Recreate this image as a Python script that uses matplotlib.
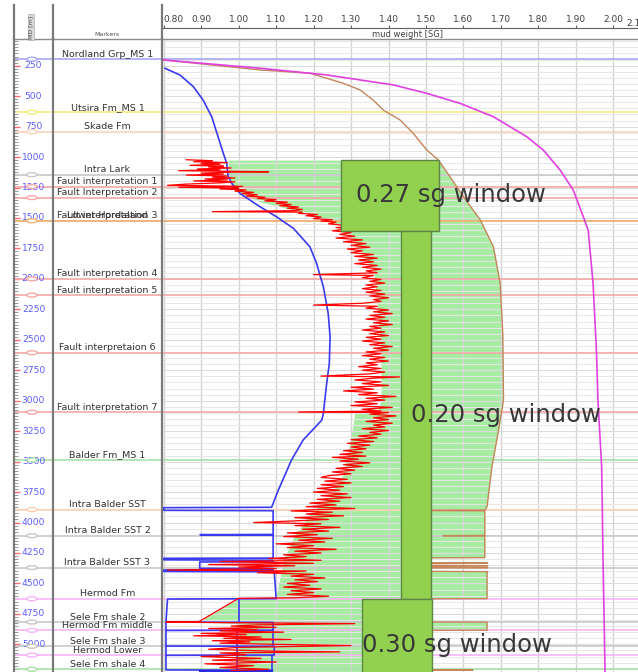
import numpy as np
import matplotlib
matplotlib.use('Agg')
import matplotlib.pyplot as plt
from matplotlib.patches import Ellipse, Rectangle
from matplotlib.lines import Line2D

W, H = 638, 672
DEPTH_TOP, DEPTH_BASE = 31, 5227
SG_MIN, SG_MAX = 0.794, 2.066

# ---- well tops / faults ----
marker_names = ['Nordland Grp_MS 1', 'Utsira Fm_MS 1', 'Skade Fm', 'Intra Lark',
                'Fault interpretation 1', 'Fault Interpretation 2', 'Fault interpretation 3',
                'Lower Hordaland', 'Fault interpretation 4', 'Fault interpretation 5',
                'Fault interpretaion 6', 'Fault interpretation 7', 'Balder Fm_MS 1',
                'Intra Balder SST', 'Intra Balder SST 2', 'Intra Balder SST 3', 'Hermod Fm',
                'Sele Fm shale 2', 'Hermod Fm middle', 'Sele Fm shale 3', 'Hermod Lower',
                'Sele Fm shale 4']
marker_depths = [197, 632, 792, 1145, 1242, 1333, 1522, 1522, 2000, 2133, 2606, 3095,
                 3487, 3894, 4108, 4370, 4626, 4817, 4885, 5016, 5088, 5205]
marker_colors = ['#a8a8f0', '#f4ee80', '#f8d4bc', '#c8c8c8', '#f4a8a8', '#f4a8a8',
                 '#f0b47c', '#f0b47c', '#f4a8a8', '#f4a8a8', '#f4a8a8', '#f4a8a8',
                 '#a8e0a8', '#f8d0b0', '#c8c8c8', '#c8c8c8', '#f8b4f8', '#c8c8c8',
                 '#f8b4f8', '#c8c8c8', '#f8b4f8', '#a8e0a8']

depth_labels = list(range(250, 5001, 250))
sg_ticks = [0.80, 0.90, 1.00, 1.10, 1.20, 1.30, 1.40, 1.50, 1.60, 1.70, 1.80, 1.90, 2.00]

# ---- curves (sg vs measured depth) ----
# overburden
mag_sg = [0.799, 1.057, 1.235, 1.413, 1.502, 1.591, 1.680, 1.769, 1.813, 1.858, 1.893,
          1.920, 1.933, 1.946, 1.955, 1.959, 1.969, 1.973, 1.978]
mag_depth = [203, 271, 326, 408, 477, 559, 669, 833, 942, 1106, 1270, 1490, 1599, 2034,
             2584, 2994, 3542, 4363, 5227]

# fracture gradient
frac_sg = [0.799, 1.057, 1.190, 1.279, 1.324, 1.359, 1.386, 1.431, 1.466, 1.502, 1.533,
           1.564, 1.600, 1.645, 1.680, 1.698, 1.705, 1.707, 1.689, 1.676, 1.663,
           1.657, 1.450, 1.450, 1.657, 1.657, 1.545, 1.657, 1.657, 1.450, 1.450, 1.665,
           1.450, 1.450, 1.665, 1.450, 1.450, 1.665, 1.450, 1.450, 1.665, 1.663, 1.663,
           1.450, 1.450, 1.663, 1.663, 1.450, 1.450, 1.625, 1.450, 1.450]
frac_depth = [203, 285, 312, 394, 449, 532, 614, 696, 805, 942, 1024, 1161, 1325, 1516,
              1736, 2036, 2447, 2994, 3323, 3542, 3870,
              3897, 3899, 3902, 3905, 4106, 4108, 4110, 4288, 4290, 4331, 4334, 4337, 4351,
              4354, 4357, 4367, 4370, 4373, 4400, 4403, 4405, 4625, 4627, 4816, 4818, 4884,
              4886, 5209, 5211, 5213, 5227]

# pore pressure
pp_sg = [0.803, 0.843, 0.879, 0.905, 0.928, 0.945, 0.959, 0.968, 0.972, 0.981, 1.003,
         1.057, 1.101, 1.146, 1.190, 1.208, 1.213, 1.226, 1.239, 1.244, 1.242, 1.235,
         1.226, 1.222, 1.172, 1.141, 1.106, 1.088,
         0.800, 0.800, 1.092, 1.092, 0.897, 1.092, 1.092, 0.800, 0.800, 1.092, 1.092,
         0.896, 0.896, 1.092, 1.092, 0.800, 0.800, 1.095, 1.100, 0.810, 0.806, 1.092,
         1.092, 0.806, 0.806, 1.095, 1.095, 0.806, 0.806, 1.090]
pp_depth = [271, 326, 422, 532, 669, 833, 969, 1051, 1161, 1215, 1298, 1408, 1490, 1585,
            1736, 1872, 1927, 2064, 2283, 2475, 2693, 2857, 3104, 3159, 3323, 3487, 3733,
            3875,
            3878, 3900, 3903, 4098, 4100, 4103, 4292, 4294, 4306, 4310, 4322, 4324, 4376,
            4378, 4388, 4390, 4402, 4405, 4625, 4628, 4817, 4820, 4884, 4886, 5014, 5016,
            5088, 5090, 5210, 5212]
# pore pressure, sand/shale side traces in the reservoir section
pp2_sg = [1.0, 1.0, np.nan, 0.806, 0.806, np.nan, 1.092, 1.092, np.nan, 0.806, 0.806,
          np.nan, 1.090, 1.090, np.nan, 0.995, 0.995]
pp2_depth = [4628, 4817, np.nan, 4820, 4884, np.nan, 4886, 5014, np.nan, 5016, 5088,
             np.nan, 5090, 5210, np.nan, 4886, 5210]
pp_base_sg = [0.897, 1.085]
pp_base_depth = [5219, 5219]

# lower mud weight bound (collapse)
lower_sg = [0.972, 0.972, 0.981, 1.003, 1.06, 1.14, 1.22, 1.27, 1.30, 1.33, 1.36, 1.37,
            1.38, 1.38, 1.37, 1.31, 1.30, 1.28, 1.24, 1.20, 1.15, 1.12, 1.10, 1.00,
            0.893, 0.995, 0.995]
lower_depth = [1025, 1161, 1215, 1298, 1370, 1430, 1500, 1560, 1650, 1800, 1930, 2200,
               2600, 3000, 3090, 3100, 3300, 3600, 3800, 3900, 4100, 4300, 4610, 4622,
               4815, 4830, 5227]

# mud weight log (depth, sg)
mw_log = [
    (1022, 0.86), (1030, 0.93), (1038, 0.88), (1045, 0.97), (1052, 0.90), (1060, 0.95),
    (1068, 0.87), (1075, 0.96), (1082, 0.92), (1090, 0.98), (1098, 0.89), (1105, 0.95),
    (1112, 0.84), (1118, 0.99), (1121, 1.08), (1124, 0.98), (1132, 0.90), (1140, 0.96),
    (1148, 0.86), (1156, 0.97), (1165, 0.93), (1172, 0.99), (1180, 0.91), (1188, 0.97),
    (1196, 0.88), (1204, 0.99), (1212, 0.95), (1222, 0.86), (1232, 0.81), (1240, 1.01),
    (1248, 0.84), (1255, 1.00), (1262, 0.95), (1270, 1.02), (1280, 0.99), (1290, 1.04),
    (1300, 1.01), (1310, 1.05), (1320, 1.02), (1330, 1.07), (1340, 1.05), (1350, 1.10),
    (1360, 1.07), (1370, 1.13), (1380, 1.10), (1390, 1.14), (1400, 1.11), (1410, 1.16),
    (1420, 1.13), (1430, 1.17), (1440, 1.15), (1448, 0.93), (1452, 1.17), (1462, 1.16),
    (1472, 1.21), (1482, 1.18), (1492, 1.22), (1505, 1.20), (1515, 1.25), (1525, 1.22),
    (1535, 1.26), (1548, 1.24), (1560, 1.28), (1572, 1.33), (1578, 1.26), (1590, 1.29),
    (1605, 1.25), (1620, 1.30), (1635, 1.27), (1650, 1.31), (1665, 1.26), (1680, 1.33),
    (1695, 1.28), (1710, 1.34), (1725, 1.30), (1740, 1.35), (1755, 1.29), (1770, 1.33),
    (1785, 1.30), (1800, 1.36), (1815, 1.31), (1830, 1.37), (1845, 1.32), (1860, 1.36),
    (1875, 1.31), (1890, 1.37), (1905, 1.33), (1920, 1.38), (1935, 1.34), (1950, 1.37),
    (1965, 1.20), (1972, 1.36), (1990, 1.33), (2005, 1.38), (2020, 1.35), (2035, 1.39),
    (2050, 1.34), (2065, 1.37), (2080, 1.33), (2095, 1.38), (2110, 1.34), (2125, 1.39),
    (2140, 1.35), (2155, 1.40), (2170, 1.36), (2185, 1.38), (2200, 1.33), (2215, 1.20),
    (2225, 1.37), (2240, 1.34), (2255, 1.40), (2270, 1.36), (2285, 1.41), (2300, 1.35),
    (2315, 1.39), (2330, 1.34), (2345, 1.40), (2360, 1.36), (2375, 1.41), (2390, 1.35),
    (2405, 1.38), (2420, 1.33), (2435, 1.39), (2450, 1.35), (2465, 1.40), (2480, 1.34),
    (2495, 1.38), (2510, 1.33), (2525, 1.39), (2540, 1.35), (2555, 1.41), (2570, 1.36),
    (2585, 1.40), (2600, 1.34), (2615, 1.38), (2630, 1.33), (2645, 1.39), (2660, 1.35),
    (2675, 1.40), (2690, 1.34), (2705, 1.37), (2720, 1.32), (2735, 1.38), (2750, 1.33),
    (2765, 1.39), (2780, 1.35), (2798, 1.22), (2805, 1.43), (2815, 1.36), (2830, 1.31),
    (2845, 1.38), (2860, 1.33), (2875, 1.40), (2890, 1.30), (2905, 1.36), (2920, 1.28),
    (2935, 1.37), (2950, 1.32), (2965, 1.42), (2980, 1.34), (2995, 1.39), (3010, 1.31),
    (3025, 1.37), (3040, 1.30), (3055, 1.41), (3070, 1.33), (3085, 1.38), (3093, 1.16),
    (3097, 1.40), (3110, 1.35), (3125, 1.42), (3140, 1.36), (3155, 1.40), (3170, 1.34),
    (3185, 1.41), (3200, 1.36), (3215, 1.39), (3230, 1.33), (3245, 1.40), (3260, 1.35),
    (3275, 1.38), (3290, 1.32), (3305, 1.37), (3320, 1.30), (3335, 1.36), (3350, 1.29),
    (3365, 1.35), (3380, 1.30), (3395, 1.34), (3410, 1.28), (3425, 1.33), (3440, 1.27),
    (3455, 1.34), (3465, 1.25), (3480, 1.32), (3495, 1.27), (3510, 1.35), (3525, 1.28),
    (3540, 1.33), (3555, 1.26), (3570, 1.31), (3585, 1.25), (3600, 1.30), (3615, 1.24),
    (3630, 1.22), (3645, 1.29), (3660, 1.23), (3675, 1.30), (3690, 1.22), (3705, 1.28),
    (3720, 1.21), (3735, 1.27), (3750, 1.20), (3765, 1.29), (3780, 1.22), (3795, 1.30),
    (3810, 1.21), (3825, 1.27), (3840, 1.19), (3855, 1.26), (3870, 1.18), (3885, 1.31),
    (3895, 1.20), (3905, 1.14), (3915, 1.25), (3930, 1.18), (3945, 1.28), (3960, 1.15),
    (3975, 1.24), (3990, 1.12), (4000, 1.04), (4010, 1.22), (4025, 1.15), (4040, 1.27),
    (4055, 1.17), (4070, 1.24), (4085, 1.13), (4100, 1.21), (4115, 1.12), (4130, 1.25),
    (4145, 1.16), (4160, 1.23), (4175, 1.10), (4190, 1.20), (4205, 1.13), (4220, 1.26),
    (4235, 1.15), (4250, 1.22), (4265, 1.12), (4280, 1.18), (4295, 1.08), (4310, 1.22),
    (4320, 0.95), (4335, 1.20), (4345, 0.92), (4355, 1.15), (4365, 1.00), (4378, 1.10),
    (4390, 0.81), (4398, 1.18), (4412, 1.05), (4425, 1.20), (4440, 1.14), (4455, 1.23),
    (4470, 1.15), (4485, 1.21), (4500, 1.13), (4515, 1.19), (4530, 1.12), (4545, 1.22),
    (4560, 1.14), (4575, 1.20), (4590, 1.13), (4605, 1.24), (4618, 1.15), (4622, 1.00),
    (4815, 0.893), (4818, 0.806), (4830, 1.31), (4840, 1.05), (4850, 0.98), (4860, 1.10),
    (4870, 0.92), (4880, 1.05), (4890, 0.95), (4900, 1.12), (4910, 0.90), (4920, 1.02),
    (4930, 0.88), (4940, 1.06), (4950, 0.96), (4960, 1.14), (4970, 0.93), (4980, 1.03),
    (4990, 0.95), (5000, 1.10), (5010, 1.30), (5025, 1.00), (5040, 0.92), (5055, 1.08),
    (5062, 1.27), (5070, 0.95), (5085, 1.02), (5100, 0.90), (5115, 1.06), (5130, 0.93),
    (5145, 1.10), (5160, 0.91), (5175, 1.04), (5190, 0.95), (5205, 1.08), (5215, 0.98),
]

# mud weight window annotations
window_labels = ['0.27 sg window', '0.20 sg window', '0.30 sg window']
window_left = [1.272, 1.4325, 1.328]
window_right = [1.536, 1.5126, 1.515]
window_top = [1024, 1605, 4627]
window_base = [1605, 4627, 5300]
window_text_sg = [1.314, 1.460, 1.329]
window_text_depth = [1312, 3117, 5004]

GREEN_FILL = '#a8eca4'
BOX_GREEN = '#92d050'


def fig_rect(x0, y0, x1, y1):
    """pixel box (top-left origin) -> figure fraction rect"""
    return [x0 / W, 1 - y1 / H, (x1 - x0) / W, (y1 - y0) / H]


fig = plt.figure(figsize=(W / 100, H / 100), dpi=100)
ax_d = fig.add_axes(fig_rect(13.5, 39, 53.5, H))
ax_m = fig.add_axes(fig_rect(53.5, 39, 161.5, H))
ax = fig.add_axes(fig_rect(161.5, 39, W, H))
hx = fig.add_axes(fig_rect(161.5, 28, W, 39))

for a in (ax_d, ax_m, ax):
    a.set_ylim(DEPTH_BASE, DEPTH_TOP)
    for s in ('right', 'bottom'):
        a.spines[s].set_visible(False)
    a.spines['left'].set_color('#7a7a7a')
    a.spines['left'].set_linewidth(1.6)
    a.spines['top'].set_color('#8c8c8c')
    a.spines['top'].set_linewidth(1.0)

# header separators between tracks
for xp in (13.5, 53.5, 161.5):
    fig.add_artist(Line2D([xp / W, xp / W], [1 - 5 / H, 1 - 39 / H],
                          color='#7a7a7a', lw=1.6))
fig.text(31 / W, 1 - 27 / H, 'MD [m]', rotation=90, fontsize=4.5, color='#505050',
         ha='center', va='center',
         bbox=dict(boxstyle='square,pad=0.15', fc='#d8d8d8', ec='#b0b0b0', lw=0.5))
fig.text(107 / W, 1 - 35 / H, 'Markers', fontsize=4.5, color='#505050',
         ha='center', va='center')

# ---- depth track ----
ax_d.set_xlim(0, 1)
ax_d.set_xticks([])
ax_d.set_yticks(depth_labels)
ax_d.set_yticks(np.arange(50, DEPTH_BASE, 25), minor=True)
ax_d.tick_params(axis='y', which='major', direction='in', length=4, width=1,
                 color='#ff6a6a', labelleft=False)
ax_d.tick_params(axis='y', which='minor', direction='in', length=3, width=0.6,
                 color='#8a8a8a')
for d in depth_labels:
    ax_d.text(0.5, d, str(d), ha='center', va='center', fontsize=6.6, color='#5c5cff')

# ---- markers track ----
ax_m.set_xlim(0, 1)
ax_m.set_xticks([])
ax_m.set_yticks([])

for name, d, c in zip(marker_names, marker_depths, marker_colors):
    for a in (ax_d, ax_m, ax):
        a.axhline(d, color=c, lw=1.2, zorder=1.7)
    ax_d.add_patch(Ellipse((0.46, d), 0.26, 32, fc='white', ec=c, lw=1.0, zorder=3))
    t = ax_m.annotate(name, xy=(0.5, d), xytext=(0, 3.6), textcoords='offset points',
                      ha='center', va='center', fontsize=6.8, color='#333333')
    t.set_clip_on(True)

# ---- x scale header ----
hx.set_xlim(SG_MIN, SG_MAX)
hx.set_ylim(0, 1)
hx.set_yticks([])
for s in ('left', 'right', 'bottom'):
    hx.spines[s].set_visible(False)
hx.spines['top'].set_color('#606060')
hx.xaxis.tick_top()
hx.set_xticks(sg_ticks)
hx.set_xticklabels([f'{v:.2f}' for v in sg_ticks])
hx.tick_params(axis='x', direction='out', length=2.2, width=0.8, color='#606060',
               pad=0.8, labelsize=6.5, labelcolor='#404040')
hx.get_xticklabels()[0].set_horizontalalignment('left')
hx.text(2.036, 1.0, '2.10', transform=hx.get_xaxis_transform(), fontsize=6.5,
        color='#404040', ha='left', va='bottom')
hx.text(1.45, 0.45, 'mud weight [SG]', ha='center', va='center', fontsize=6,
        color='#404040')
hx.patch.set_alpha(0)

# ---- main track ----
ax.set_xlim(SG_MIN, SG_MAX)
ax.set_xticks(sg_ticks)
ax.set_yticks(np.arange(250, DEPTH_BASE, 250))
ax.set_yticks(np.arange(50, DEPTH_BASE, 50), minor=True)
ax.tick_params(which='both', length=0, labelleft=False, labelbottom=False)
ax.set_axisbelow('line')
ax.grid(axis='x', color='#d4d4d4', lw=1.0)
ax.grid(axis='y', which='major', color='#dcdcdc', lw=0.8)
ax.grid(axis='y', which='minor', color='#e6e6e6', lw=0.7)

# safe mud weight window between collapse and fracture
grid = np.union1d(lower_depth, frac_depth)
grid = grid[grid >= lower_depth[0]]
left = np.interp(grid, lower_depth, lower_sg)
right = np.interp(grid, frac_depth, frac_sg)
ax.fill_betweenx(grid, left, right, where=right > left, color=GREEN_FILL, lw=0, zorder=1)

mw_depth, mw_sg = zip(*mw_log)
ax.plot(frac_sg, frac_depth, color='#c4865a', lw=1.0, zorder=2.2)
ax.plot(mag_sg, mag_depth, color='#e040e0', lw=1.2, zorder=2.3)
ax.plot(pp_sg, pp_depth, color='#3a3af0', lw=1.2, zorder=2.4)
ax.plot(pp2_sg, pp2_depth, color='#3a3af0', lw=1.2, zorder=2.4)
ax.plot(pp_base_sg, pp_base_depth, color='#2a2ae0', lw=2.2, zorder=2.4)
ax.plot(mw_sg, mw_depth, color='#ff0000', lw=0.9, zorder=2.5)

for x0, x1, d0, d1 in zip(window_left, window_right, window_top, window_base):
    ax.add_patch(Rectangle((x0, d0), x1 - x0, d1 - d0, fc=BOX_GREEN, ec='#5f8744',
                           lw=1.0, zorder=3))
for lab, xs, ds in zip(window_labels, window_text_sg, window_text_depth):
    ax.text(xs, ds, lab, ha='left', va='center', fontsize=17.5, color='#383838', zorder=4)

fig.savefig('out.png', dpi=100)
